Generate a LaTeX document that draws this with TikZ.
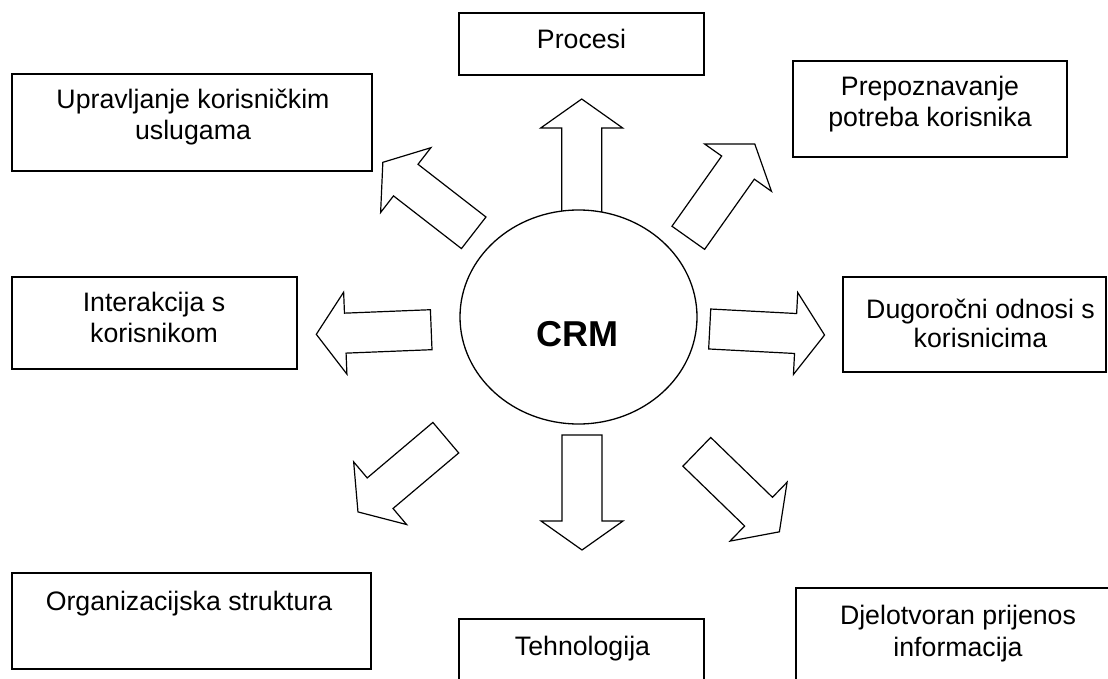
\documentclass[tikz,border=0pt]{standalone}
\usepackage{fontspec}
\setmainfont{Liberation Sans}
\usetikzlibrary{shapes.geometric}
\tikzset{
  box/.style={draw=black, line width=1.4pt, rectangle, inner sep=0pt, fill=none},
  lbl/.style={font=\fontsize{26.7}{31}\selectfont, inner sep=0pt, anchor=base, text=black},
  arrowline/.style={draw=black, line width=1.2pt, fill=white, line join=miter},
  blockarrow/.pic={\path[arrowline] (0,-20) -- (86,-20) -- (86,-41) -- (115,0) -- (86,41) -- (86,20) -- (0,20) -- cycle;}
}
\begin{document}
\begin{tikzpicture}[x=1pt,y=-1pt]
\useasboundingbox (0,0) rectangle (1108,679);
\clip (0,0) rectangle (1108,679);
\fill[white] (0,0) rectangle (1108,679);

% boxes
\node[box, minimum width=245pt, minimum height=62pt] (procesi) at (581.5,44) {};
\node[box, minimum width=360pt, minimum height=97pt] (uprav) at (192,122.5) {};
\node[box, minimum width=274pt, minimum height=96pt] (prepoz) at (930,109) {};
\node[box, minimum width=285pt, minimum height=92pt] (interak) at (154.5,323) {};
\node[box, minimum width=263pt, minimum height=95pt] (dugor) at (974.5,324.5) {};
\node[box, minimum width=359pt, minimum height=96pt] (organiz) at (191.5,621) {};
\node[box, minimum width=245pt, minimum height=81pt] (tehnol) at (581.5,659.5) {};
\node[box, minimum width=324pt, minimum height=112pt] (djelot) at (958,644) {};

% labels
\node[lbl] (procesi-t) at (581.5,49) {Procesi};
\node[lbl] (uprav-t1) at (193,109) {Upravljanje korisničkim};
\node[lbl] (uprav-t2) at (193,140) {uslugama};
\node[lbl] (prepoz-t1) at (930,96) {Prepoznavanje};
\node[lbl] (prepoz-t2) at (930,127) {potreba korisnika};
\node[lbl] (interak-t1) at (154,311) {Interakcija s};
\node[lbl] (interak-t2) at (154,342) {korisnikom};
\node[lbl] (dugor-t1) at (980.5,318) {Dugoročni odnosi s};
\node[lbl] (dugor-t2) at (980.5,347) {korisnicima};
\node[lbl] (organiz-t) at (189,610) {Organizacijska struktura};
\node[lbl] (tehnol-t) at (582.5,655) {Tehnologija};
\node[lbl] (djelot-t1) at (958,624) {Djelotvoran prijenos};
\node[lbl] (djelot-t2) at (958,656) {informacija};

% arrow tails
\coordinate (a-up) at (581.7,214);
\coordinate (a-down) at (582,435);
\coordinate (a-left) at (431.2,329.7);
\coordinate (a-right) at (709.7,329);
\coordinate (a-tl) at (473.7,232.8);
\coordinate (a-tr) at (688.3,237.8);
\coordinate (a-bl) at (445.8,437.7);
\coordinate (a-br) at (696.8,451.8);

\pic[rotate=90] at (a-up) {blockarrow};
\pic[rotate=-90] at (a-down) {blockarrow};
\pic[rotate=182.3] at (a-left) {blockarrow};
\pic[rotate=-3] at (a-right) {blockarrow};
\pic[rotate=142.2] at (a-tl) {blockarrow};
\pic[rotate=54.7] at (a-tr) {blockarrow};
\pic[rotate=220.2] at (a-bl) {blockarrow};
\pic[rotate=-44.1] at (a-br) {blockarrow};

% central ellipse
\node[ellipse, draw=black, line width=1.3pt, fill=white, minimum width=237pt, minimum height=214pt, inner sep=0pt] (crm) at (578.5,317) {};
\node[font=\fontsize{36}{40}\selectfont\bfseries, inner sep=0pt, anchor=base] (crm-t) at (577.5,346.5) {CRM};
\end{tikzpicture}
\end{document}
